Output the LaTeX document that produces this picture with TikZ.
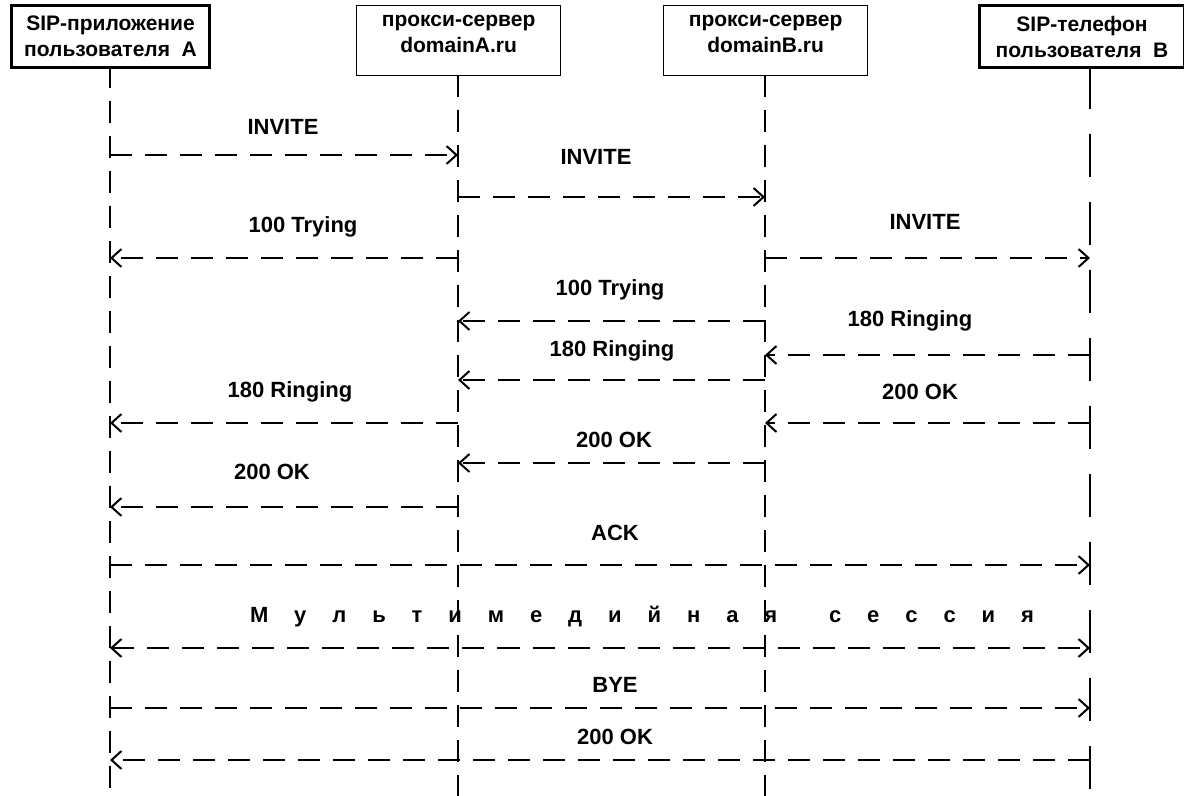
\documentclass[tikz,border=0pt]{standalone}
\usepackage{fontspec}
\setmainfont{Liberation Sans}
\usetikzlibrary{arrows.meta}

\begin{document}
\begin{tikzpicture}[x=0.5pt,y=-0.5pt,>={Straight Barb[length=5pt,width=9pt]},
font=\fontsize{11}{14.5}\selectfont\bfseries,
party/.style={draw,line width=1.5pt,minimum width=99pt,minimum height=31pt,align=center,anchor=north west,inner sep=0pt,font=\fontsize{10.5}{13}\selectfont\bfseries},
server/.style={party,line width=0.6pt,minimum width=102pt,minimum height=35pt},
life/.style={line width=1.2pt,dash pattern=on 11pt off 6.5pt},
msg/.style={->,line width=1pt,dash pattern=on 11pt off 6.5pt},
lbl/.style={inner sep=1pt}]
\useasboundingbox (0,0) rectangle (1184,796);
% участники
\node[party] (ua) at (10,4) {SIP-приложение\\пользователя\ \ A};
\node[server] (pa) at (356,5) {прокси-сервер\\domainA.ru\\[-6pt]\mbox{}};
\node[server] (pb) at (663,5) {прокси-сервер\\domainB.ru\\[-6pt]\mbox{}};
\node[party,minimum width=102.5pt] (ub) at (978,4) {SIP-телефон\\пользователя\ \ B};
\coordinate (la) at (110,66);
\coordinate (lpa) at (458,75);
\coordinate (lpb) at (765,75);
\coordinate (lb) at (1090,66);
\coordinate (ea) at (110,796);
\coordinate (epa) at (458,796);
\coordinate (epb) at (765,796);
\coordinate (eb) at (1090,796);
\draw[life] (la)--(ea);
\draw[life] (lpa)--(epa);
\draw[life] (lpb)--(epb);
\draw[life,dash pattern=on 21.5pt off 12.5pt] (lb)--(eb);
% установление вызова
\node[lbl] (m1) at (283,127) {INVITE};
\draw[msg] (la|-0,155)--(lpa|-0,155);
\node[lbl] (m2) at (596,157) {INVITE};
\draw[msg] (lpa|-0,197)--(lpb|-0,197);
\node[lbl] (m3) at (303,227) {100 Trying};
\draw[msg] (lpa|-0,258)--(la|-0,258);
\node[lbl] (m4) at (925,222) {INVITE};
\draw[msg] (lpb|-0,258)--(lb|-0,258);
\node[lbl] (m5) at (610,290) {100 Trying};
\draw[msg] (lpb|-0,321)--(lpa|-0,321);
\node[lbl] (m6) at (910,321) {180 Ringing};
\draw[msg] (lb|-0,355)--(lpb|-0,355);
\node[lbl] (m7) at (612,351) {180 Ringing};
\draw[msg] (lpb|-0,380)--(lpa|-0,380);
\node[lbl] (m8) at (290,392) {180 Ringing};
\draw[msg] (lpa|-0,423)--(la|-0,423);
\node[lbl] (m9) at (920,392) {200 OK};
\draw[msg] (lb|-0,423)--(lpb|-0,423);
\node[lbl] (m10) at (614,440) {200 OK};
\draw[msg] (lpb|-0,463)--(lpa|-0,463);
\node[lbl] (m11) at (272,472) {200 OK};
\draw[msg] (lpa|-0,507)--(la|-0,507);
\node[lbl] (m12) at (615,533) {ACK};
\draw[msg] (la|-0,565)--(lb|-0,565);
% сессия и завершение
\node[lbl] (m13) at (642,617) {\makebox[392pt][s]{М у л ь т и м е д и й н а я\ \ с е с с и я}};
\draw[msg,<->] (la|-0,648)--(lb|-0,648);
\node[lbl] (m14) at (615,685) {BYE};
\draw[msg] (la|-0,708)--(lb|-0,708);
\node[lbl] (m15) at (615,737) {200 OK};
\draw[msg] (lb|-0,760)--(la|-0,760);
\end{tikzpicture}
\end{document}
